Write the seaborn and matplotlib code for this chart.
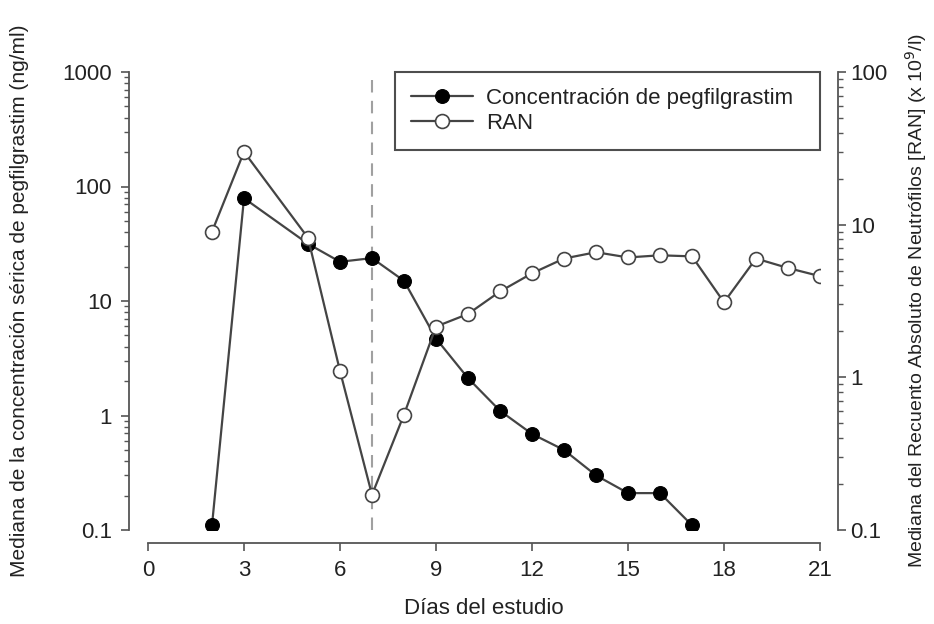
import numpy as np
import pandas as pd
import matplotlib
matplotlib.use("Agg")
import matplotlib.pyplot as plt
from matplotlib.ticker import FixedLocator, LogLocator, NullFormatter
import seaborn as sns

# data
dias_peg = [2, 3, 5, 6, 7, 8, 9, 10, 11, 12, 13, 14, 15, 16, 17]
conc_peg = [0.11, 79, 31.6, 22, 23.7, 15, 4.7, 2.12, 1.1, 0.69, 0.50, 0.30, 0.21, 0.21, 0.11]

dias_ran = [2, 3, 5, 6, 7, 8, 9, 10, 11, 12, 13, 14, 15, 16, 17, 18, 19, 20, 21]
ran = [9.0, 30, 8.2, 1.1, 0.17, 0.57, 2.15, 2.6, 3.65, 4.8, 6.0, 6.6, 6.1, 6.3, 6.2, 3.1, 6.0, 5.2, 4.6]

left_ticks = [0.1, 1, 10, 100, 1000]
right_ticks = [0.1, 1, 10, 100]
x_ticks = [0, 3, 6, 9, 12, 15, 18, 21]

sns.set_style("ticks")
plt.rcParams["font.family"] = ["Liberation Sans", "DejaVu Sans"]
plt.rcParams["font.size"] = 16

spine_col = "#555555"
line_col = "#444444"
txt_col = "#222222"

fig = plt.figure(figsize=(9.34, 6.24), dpi=100)
ax = fig.add_axes([148 / 934, 1 - 530 / 624, 672 / 934, 458 / 624])
ax2 = ax.twinx()

df_peg = pd.DataFrame({"dia": dias_peg, "conc": conc_peg})
df_ran = pd.DataFrame({"dia": dias_ran, "ran": ran})

ax.axvline(7, color="#a0a0a0", lw=1.5, ls=(0, (6, 4)), zorder=1)

sns.lineplot(data=df_peg, x="dia", y="conc", ax=ax, color=line_col, lw=1.6,
             marker="o", markersize=10, markerfacecolor="black",
             markeredgecolor="black", label="Concentración de pegfilgrastim",
             legend=False, zorder=3)
sns.lineplot(data=df_ran, x="dia", y="ran", ax=ax2, color=line_col, lw=1.6,
             marker="o", markersize=10, markerfacecolor="white",
             markeredgecolor="#444444", markeredgewidth=1.2, label="RAN",
             legend=False, zorder=3)

for a, lo, hi, ticks in [(ax, 0.1, 1000, left_ticks), (ax2, 0.1, 100, right_ticks)]:
    a.set_yscale("log")
    a.set_ylim(lo, hi)
    a.yaxis.set_major_locator(FixedLocator(ticks))
    a.set_yticklabels([f"{t:g}" for t in ticks])
    a.yaxis.set_minor_locator(LogLocator(base=10, subs=np.arange(2, 10)))
    a.yaxis.set_minor_formatter(NullFormatter())

ax.set_xlim(0, 21)
ax.set_xticks(x_ticks)
ax.set_xticklabels([str(t) for t in x_ticks])

for s in ["top", "right"]:
    ax.spines[s].set_visible(False)
for s in ["top", "left", "bottom"]:
    ax2.spines[s].set_visible(False)
ax.spines["left"].set_position(("outward", 14))
ax.spines["bottom"].set_position(("outward", 9.5))
ax2.spines["right"].set_position(("outward", 13))
for sp in [ax.spines["left"], ax.spines["bottom"], ax2.spines["right"]]:
    sp.set_color(spine_col)
    sp.set_linewidth(1.3)

ax.tick_params(axis="both", which="major", length=6, width=1.2, color=spine_col,
               labelcolor=txt_col, labelsize=16, pad=6)
ax.tick_params(axis="y", which="minor", length=3.5, width=1, color=spine_col)
ax2.tick_params(axis="y", which="major", length=6, width=1.2, color=spine_col,
                labelcolor=txt_col, labelsize=16, pad=3)
ax2.tick_params(axis="y", which="minor", length=3.5, width=1, color=spine_col)

ax.set_xlabel("Días del estudio", fontsize=16, color=txt_col, labelpad=12)
ax.set_ylabel("Mediana de la concentración sérica de pegfilgrastim (ng/ml)",
              fontsize=15, color=txt_col, labelpad=24)
ax2.set_ylabel("Mediana del Recuento Absoluto de Neutrófilos [RAN] (x 10$^9$/l)",
               fontsize=14, color=txt_col, labelpad=11)

handles = [ax.get_lines()[-1], ax2.get_lines()[-1]]
labels = ["Concentración de pegfilgrastim", "RAN"]
leg = ax2.legend(handles, labels, loc="upper left",
                 bbox_to_anchor=(247 / 672, 1 - 78 / 458, 425 / 672, 78 / 458),
                 mode="expand", borderaxespad=0, fancybox=False, frameon=True,
                 fontsize=16, handlelength=2.8, borderpad=0.7, labelspacing=0.2,
                 handletextpad=0.6)
leg.get_frame().set_edgecolor("#222222")
leg.get_frame().set_linewidth(1.5)
for t in leg.get_texts():
    t.set_color(txt_col)

fig.savefig("out.png", dpi=100)
